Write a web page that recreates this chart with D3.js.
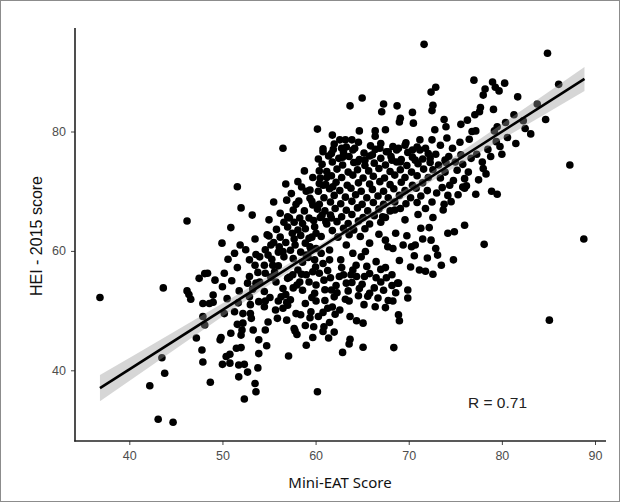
<!DOCTYPE html>
<html>
<head>
<meta charset="utf-8">
<script src="https://cdn.jsdelivr.net/npm/d3@7"></script>
<style>
  body { margin: 0; background: #fff; }
  svg { display: block; }
</style>
</head>
<body>
<script>
// points as [Mini-EAT score, HEI-2015 score], grouped by area
const lowTail = [
  [36.85, 52.2], [43.65, 53.8], [46.2, 65.0], [46.2, 53.3], [46.4, 52.7], [47.5, 55.4], [48.1, 56.2],
  [46.6, 51.9], [47.9, 51.2], [47.9, 49.0], [48.1, 47.6], [47.2, 45.4], [47.8, 43.4], [47.9, 41.4],
  [43.5, 42.1], [43.8, 39.5], [42.2, 37.4], [43.1, 31.8], [44.7, 31.3], [48.7, 38.0], [52.35, 35.2],
  [53.6, 36.4], [53.5, 37.8], [51.75, 38.9], [52.7, 39.7], [53.8, 40.4], [60.2, 36.4], [57.1, 42.4]
];

const lowerCluster = [
  [50.0, 41.0], [50.8, 41.2], [51.75, 40.9], [52.35, 41.0], [50.4, 42.3], [50.8, 42.7], [51.5, 43.7],
  [52.0, 43.8], [53.9, 42.8], [54.75, 44.1], [53.9, 45.1], [49.75, 45.1], [49.85, 45.5], [50.9, 46.2],
  [52.0, 45.9], [52.1, 46.75], [51.6, 47.7], [52.2, 47.9], [53.3, 46.75], [54.6, 46.75], [54.9, 48.1],
  [53.1, 48.7], [53.0, 49.5], [52.2, 49.5], [51.3, 49.8], [50.2, 49.5], [48.6, 51.2], [49.0, 51.4],
  [52.9, 52.3], [53.9, 51.5], [54.5, 50.65], [55.7, 50.1], [56.5, 50.4], [55.9, 48.7], [54.6, 51.6],
  [55.1, 52.2], [56.3, 52.3], [57.9, 49.5], [57.7, 47.0], [57.8, 46.6], [58.9, 47.5], [59.0, 44.2],
  [59.8, 47.3], [59.7, 45.5], [60.8, 46.5], [61.4, 45.4], [60.9, 47.3], [60.3, 49.0], [59.4, 48.8],
  [59.5, 49.8], [61.3, 50.4], [56.9, 51.4], [58.9, 51.2], [60.05, 51.6],
  [62.6, 50.1], [63.6, 51.6], [64.6, 52.5], [65.6, 52.4], [63.7, 49.0], [65.1, 47.9], [66.4, 50.65],
  [68.3, 51.6], [69.9, 52.1], [68.9, 49.3], [69.0, 48.3], [63.7, 45.2], [63.6, 44.4], [62.9, 43.0],
  [65.1, 43.85], [68.4, 43.8],
  [60.0, 57.3], [61.3, 56.7], [62.8, 57.2], [64.0, 56.8], [65.5, 57.4], [67.0, 56.9],
  [57.2, 55.6], [58.5, 56.1], [61.6, 55.5], [63.0, 56.0], [64.4, 55.7], [65.8, 56.2], [67.6, 55.5],
  [58.0, 54.3], [59.3, 54.8], [62.2, 54.2], [63.9, 54.7], [65.0, 54.4], [67.0, 54.8], [68.2, 54.2],
  [58.6, 53.4], [59.9, 52.9], [61.0, 53.5], [62.3, 53.0], [63.5, 53.3], [65.8, 52.9], [67.3, 53.4], [68.6, 53.0],
  [57.3, 51.8], [59.6, 52.2], [61.0, 51.7], [62.0, 52.3], [63.2, 51.9], [66.7, 52.1], [67.8, 51.7],
  [57.0, 50.9], [61.8, 50.6], [65.2, 51.0], [67.5, 50.5], [58.4, 49.3], [60.8, 49.7], [62.1, 49.4],
  [56.9, 48.4], [61.5, 48.0], [64.4, 48.3], [58.0, 46.0], [62.0, 46.4]
];

const leftCluster = [
  [51.6, 70.75], [52.0, 67.2], [53.2, 66.0], [50.9, 63.9], [49.95, 61.3], [51.9, 61.0], [51.3, 59.6],
  [48.4, 56.25], [50.2, 56.25], [50.0, 54.0], [52.9, 58.5], [53.6, 59.4], [54.0, 59.0], [54.9, 59.3],
  [53.5, 57.6], [54.5, 57.6], [55.4, 57.6], [52.9, 55.7], [53.8, 56.4], [54.6, 56.25], [52.7, 54.6],
  [53.6, 54.6], [55.75, 54.8], [55.2, 61.0], [56.1, 60.7], [56.5, 59.9], [56.8, 61.4], [57.7, 62.0],
  [57.5, 62.95], [58.1, 63.5], [58.6, 64.6], [57.7, 64.8], [57.0, 65.7], [57.2, 65.5], [56.9, 68.5],
  [58.2, 68.35], [57.6, 66.85], [58.3, 65.5], [58.8, 73.4], [58.1, 71.6], [59.7, 72.3], [60.4, 73.4],
  [61.2, 72.3], [59.4, 70.2], [60.4, 71.3], [60.8, 71.0], [61.85, 70.75], [59.4, 68.8], [59.7, 67.7],
  [60.2, 67.0], [60.7, 66.0], [61.1, 64.9], [61.7, 65.5], [59.3, 65.5], [59.9, 64.05], [60.05, 62.95],
  [59.3, 62.1], [60.6, 62.4], [59.4, 60.7], [60.05, 60.4], [60.6, 59.6], [61.5, 60.15], [60.8, 57.9],
  [61.5, 58.5], [59.9, 58.5], [59.0, 59.3], [58.6, 58.1], [58.1, 56.8], [57.55, 56.0], [57.0, 55.4],
  [58.3, 54.8], [59.0, 56.0], [59.7, 56.5], [60.4, 56.25], [60.9, 55.1], [60.05, 54.3], [61.7, 53.45],
  [57.6, 53.8], [56.5, 53.7], [54.5, 53.2], [53.25, 53.6], [51.8, 53.3], [55.6, 56.5],
  [56.8, 71.2], [58.5, 70.7], [57.4, 69.6], [59.0, 70.0], [55.5, 68.2], [57.9, 67.8], [59.6, 68.3],
  [56.2, 66.3], [58.8, 66.7], [55.0, 65.2], [56.6, 64.8], [59.8, 65.1], [55.8, 63.6], [57.0, 64.0],
  [58.9, 63.7], [54.8, 62.7], [56.2, 62.3], [58.4, 62.6], [59.6, 62.3], [55.5, 61.4], [57.8, 61.0],
  [58.9, 61.3], [54.6, 60.2], [56.0, 59.8], [57.3, 60.1], [58.4, 59.8], [59.5, 60.2], [55.3, 58.6],
  [56.6, 59.0], [57.6, 58.7], [59.2, 58.9],
  [49.2, 55.1], [51.0, 55.0], [51.6, 57.2], [50.6, 58.6], [49.0, 52.6], [50.5, 52.0], [51.7, 51.3],
  [53.0, 51.0], [55.2, 55.6], [54.0, 54.8], [56.0, 57.5], [55.0, 62.5], [53.5, 62.0], [52.5, 60.2],
  [56.0, 51.6], [56.8, 52.7]
];

const core = [
  [62.0, 77.9], [63.3, 77.4], [64.6, 78.2], [65.9, 77.6], [67.0, 78.0], [68.3, 77.5], [69.7, 78.1], [70.9, 77.4],
  [60.8, 76.6], [61.9, 77.0], [63.0, 76.5], [64.0, 76.9], [65.2, 76.4], [66.4, 77.0], [67.6, 76.6], [68.7, 76.9], [69.9, 76.5], [71.2, 76.9], [72.1, 76.3],
  [60.3, 75.4], [61.4, 75.9], [62.5, 75.5], [63.6, 75.8], [64.7, 75.3], [65.8, 75.9], [67.0, 75.5], [68.1, 75.8], [69.2, 75.3], [70.4, 75.7], [71.5, 75.4],
  [60.7, 74.5], [61.8, 74.9], [62.9, 74.4], [64.1, 74.8], [65.3, 74.3], [66.3, 74.7], [67.5, 74.4], [68.7, 74.9], [69.8, 74.3], [71.0, 74.6], [72.3, 74.8],
  [61.2, 73.3], [62.3, 73.7], [63.5, 73.2], [64.5, 73.6], [65.7, 73.4], [66.8, 73.8], [68.0, 73.3], [69.1, 73.6], [70.3, 73.2], [71.6, 73.7],
  [60.5, 72.2], [61.7, 72.6], [62.8, 72.3], [64.0, 72.7], [65.1, 72.2], [66.2, 72.5], [67.4, 72.2], [68.5, 72.7], [69.6, 72.3], [70.9, 72.6], [72.1, 72.3],
  [61.1, 71.1], [62.2, 71.5], [63.4, 71.0], [64.6, 71.4], [65.8, 71.2], [66.9, 71.6], [68.0, 71.1], [69.2, 71.5], [70.4, 71.0], [71.5, 71.4],
  [60.3, 70.0], [61.5, 70.4], [62.6, 70.1], [63.8, 70.5], [64.9, 70.0], [66.1, 70.3], [67.3, 70.0], [68.4, 70.4], [69.6, 70.1], [70.8, 70.5], [72.0, 70.1],
  [60.9, 68.9], [62.0, 69.3], [63.2, 69.0], [64.3, 69.4], [65.5, 68.9], [66.7, 69.2], [67.8, 68.9], [69.0, 69.3], [70.2, 68.9], [71.3, 69.2],
  [60.4, 67.8], [61.6, 68.2], [62.7, 67.9], [63.9, 68.3], [65.0, 67.8], [66.2, 68.1], [67.3, 67.8], [68.5, 68.2], [69.7, 67.9], [70.9, 68.1],
  [61.0, 66.7], [62.1, 67.1], [63.3, 66.8], [64.5, 67.2], [65.6, 66.7], [66.8, 67.0], [68.0, 66.7], [69.1, 67.1],
  [60.5, 65.6], [61.6, 66.0], [62.8, 65.7], [63.9, 66.1], [65.1, 65.6], [66.3, 65.9], [67.5, 65.6],
  [61.2, 64.5], [62.3, 64.9], [63.5, 64.6], [64.6, 65.0], [65.8, 64.5], [67.0, 64.8],
  [61.8, 63.4], [63.0, 63.8], [64.1, 63.5], [65.3, 63.7], [62.4, 62.3], [63.6, 62.7], [64.8, 62.4],
  [67.2, 65.7], [68.5, 66.85], [69.6, 65.2], [71.0, 66.1], [71.8, 67.1], [72.6, 65.6], [73.7, 66.85],
  [74.55, 68.25], [75.3, 69.4], [76.0, 70.5], [71.3, 63.8], [72.2, 63.9], [74.2, 62.95], [74.9, 63.2],
  [76.0, 64.3], [69.8, 62.55], [70.3, 60.7], [70.7, 61.0], [72.4, 61.8], [73.1, 59.3], [72.9, 60.4],
  [74.8, 58.5], [71.15, 56.8], [71.8, 56.6], [72.6, 56.1], [68.9, 54.6], [69.9, 53.45], [66.5, 55.5],
  [66.5, 58.2], [67.75, 60.7], [68.3, 60.4], [68.6, 62.95], [67.5, 61.8], [66.8, 62.8], [65.8, 61.3],
  [65.35, 59.9], [64.9, 59.0], [64.0, 59.6], [63.3, 61.0], [62.7, 58.5], [64.35, 57.6], [63.8, 56.0],
  [65.25, 55.7], [62.55, 55.7], [63.3, 54.6], [64.7, 53.7], [66.3, 53.8], [68.8, 54.6],
  [69.0, 58.4], [70.2, 57.3], [67.5, 57.2], [68.2, 56.0], [70.6, 59.2], [71.5, 62.0], [69.4, 61.0],
  [72.0, 58.8], [73.5, 57.6]
];

const upperCluster = [
  [60.2, 80.4], [61.8, 79.4], [56.5, 77.2], [60.8, 77.1], [61.7, 76.3],
  [71.65, 94.6], [72.9, 87.4], [72.4, 86.6], [63.7, 84.3], [65.0, 85.6], [67.3, 84.6], [67.1, 83.3],
  [68.75, 84.3], [70.4, 83.2], [70.5, 81.4], [72.6, 84.4], [72.5, 83.5], [69.1, 82.2], [69.0, 81.6],
  [64.7, 80.1], [66.4, 80.1], [66.4, 79.2], [67.5, 80.3], [73.8, 82.0], [74.0, 80.8], [75.6, 81.2],
  [72.8, 80.3], [62.6, 78.6], [63.2, 78.6], [63.9, 78.6], [62.8, 77.2], [64.2, 77.2], [62.9, 75.7],
  [66.9, 77.2], [66.1, 76.1], [67.8, 76.6], [68.9, 77.2], [69.6, 77.7], [70.4, 76.9], [71.2, 78.6],
  [71.8, 77.2], [72.5, 78.6], [73.4, 77.7], [74.1, 78.9], [74.7, 77.2], [75.5, 78.2], [72.3, 75.5],
  [70.7, 75.2], [69.1, 74.9], [73.9, 75.2], [75.0, 74.9], [68.2, 75.2], [64.5, 74.9], [65.3, 75.2],
  [72.9, 76.2], [74.3, 75.8], [75.6, 76.1], [73.2, 74.4], [74.0, 74.8], [75.8, 74.5],
  [72.6, 73.6], [73.9, 73.2], [75.2, 73.5], [76.4, 73.2], [73.4, 72.2], [74.8, 71.8], [76.0, 72.1],
  [77.5, 71.9], [73.6, 70.6], [74.4, 71.0], [75.8, 70.7], [73.0, 69.7], [74.2, 69.3], [72.5, 68.2], [73.8, 67.8]
];

const highTail = [
  [84.9, 93.1], [77.0, 88.6], [79.0, 88.3], [79.3, 87.4], [79.7, 86.8], [80.3, 88.1], [78.2, 87.1],
  [78.0, 86.1], [81.7, 85.8], [86.1, 87.9], [83.8, 84.6], [79.1, 83.7], [77.7, 84.0], [77.6, 83.3],
  [77.1, 82.8], [76.3, 81.9], [81.3, 82.8], [82.3, 81.8], [84.7, 82.0], [80.4, 81.5], [79.5, 80.8],
  [79.2, 80.1], [77.2, 80.1], [76.8, 80.0], [83.1, 79.6], [79.4, 78.3], [76.5, 78.7], [77.3, 76.2],
  [77.9, 74.9], [76.7, 75.5], [87.3, 74.4], [78.0, 73.8], [78.3, 72.9], [78.9, 70.0], [79.5, 69.5],
  [77.2, 69.5], [76.2, 70.9], [78.1, 61.1], [88.8, 62.0], [85.1, 48.4],
  [78.5, 77.0], [79.8, 77.5], [80.6, 79.0], [81.5, 78.0], [78.8, 75.8], [80.0, 76.2], [82.5, 80.5]
];

// fitted line and its confidence band (half widths read at a few x positions)
const fitEnds = [[36.85, 37.0], [88.87, 88.8]];
const bandX = [36.85, 45, 55, 63, 72, 80, 88.87];
const bandHalf = [2.2, 1.5, 0.8, 0.5, 0.75, 1.3, 2.0];

const xTicks = [40, 50, 60, 70, 80, 90];
const yTicks = [40, 60, 80];

const W = 620, H = 503;
const svg = d3.select('body').append('svg').attr('width', W).attr('height', H);

svg.append('rect').attr('x', 0.5).attr('y', 0.5).attr('width', W - 1).attr('height', H - 2)
  .attr('fill', '#fff').attr('stroke', '#8c8c8c');

const x = d3.scaleLinear().domain([40, 90]).range([129.3, 595]);
const y = d3.scaleLinear().domain([40, 80]).range([370.3, 131.5]);

const fit = d3.scaleLinear().domain([fitEnds[0][0], fitEnds[1][0]]).range([fitEnds[0][1], fitEnds[1][1]]);

const allPoints = [].concat(lowTail, lowerCluster, leftCluster, core, upperCluster, highTail);

svg.append('g').selectAll('circle')
  .data(allPoints)
  .join('circle')
  .attr('cx', d => x(d[0]))
  .attr('cy', d => y(d[1]))
  .attr('r', 3.8)
  .attr('fill', '#000');

const band = d3.area()
  .x((d, i) => x(d))
  .y0((d, i) => y(fit(d) - bandHalf[i]))
  .y1((d, i) => y(fit(d) + bandHalf[i]))
  .curve(d3.curveMonotoneX);

svg.append('path').attr('d', band(bandX)).attr('fill', '#999').attr('opacity', 0.4);

svg.append('line')
  .attr('x1', x(fitEnds[0][0])).attr('y1', y(fitEnds[0][1]))
  .attr('x2', x(fitEnds[1][0])).attr('y2', y(fitEnds[1][1]))
  .attr('stroke', '#000').attr('stroke-width', 2.6);

// axes
const axisX = svg.append('g').attr('transform', 'translate(0,441)')
  .call(d3.axisBottom(x).tickValues(xTicks).tickSize(4).tickPadding(6));
const axisY = svg.append('g').attr('transform', 'translate(75,0)')
  .call(d3.axisLeft(y).tickValues(yTicks).tickSize(4).tickPadding(5));

[axisX, axisY].forEach(g => {
  g.select('.domain').remove();
  g.selectAll('.tick line').attr('stroke', '#444').attr('stroke-width', 1);
  g.selectAll('.tick text').attr('fill', '#4d4d4d')
    .style('font-family', 'Liberation Sans, Arial, sans-serif').style('font-size', '12.5px');
});

svg.append('line').attr('x1', 75).attr('x2', 75).attr('y1', 28).attr('y2', 441.5)
  .attr('stroke', '#222').attr('stroke-width', 1.6);
svg.append('line').attr('x1', 74.2).attr('x2', 606).attr('y1', 441).attr('y2', 441)
  .attr('stroke', '#222').attr('stroke-width', 1.6);

svg.append('text').attr('x', 340).attr('y', 488).attr('text-anchor', 'middle')
  .style('font-family', 'Noto Sans, sans-serif').style('font-size', '15px').attr('fill', '#111')
  .text('Mini-EAT  Score');

svg.append('text').attr('transform', 'translate(42,236) rotate(-90)').attr('text-anchor', 'middle')
  .style('font-family', 'Liberation Sans, Arial, sans-serif').style('font-size', '16px').attr('fill', '#111')
  .text('HEI - 2015 score');

svg.append('text').attr('x', 468).attr('y', 408)
  .style('font-family', 'Liberation Sans, Arial, sans-serif').style('font-size', '15.5px').attr('fill', '#222')
  .text('R = 0.71');
</script>
</body>
</html>
